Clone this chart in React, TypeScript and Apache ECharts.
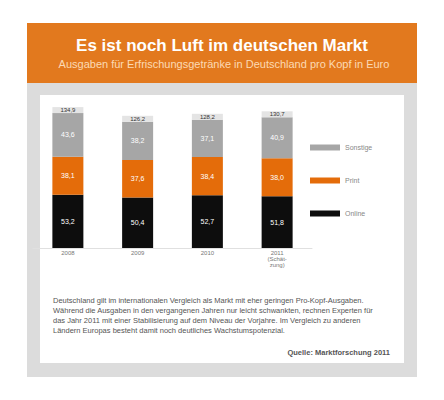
import React, { useEffect, useRef } from "react";
import * as echarts from "echarts";

const categories = ["2008", "2009", "2010", "2011\n(Schät-\nzung)"];
const seriesNames = ["Sonstige", "Print", "Online"];
const onlineValues = [53.2, 50.4, 52.7, 51.8];
const printValues = [38.1, 37.6, 38.4, 38.0];
const otherValues = [43.6, 38.2, 37.1, 40.9];

const titleText = "Es ist noch Luft im deutschen Markt";
const subtitleText = "Ausgaben für Erfrischungsgetränke in Deutschland pro Kopf in Euro";
const bodyText =
  "Deutschland gilt im internationalen Vergleich als Markt mit eher geringen Pro-Kopf-Ausgaben. Während die Ausgaben in den vergangenen Jahren nur leicht schwankten, rechnen Experten für das Jahr 2011 mit einer Stabilisierung auf dem Niveau der Vorjahre. Im Vergleich zu anderen Ländern Europas besteht damit noch deutliches Wachstumspotenzial.";
const sourceText = "Quelle: Marktforschung 2011";

const FONT = "Liberation Sans, Arial, sans-serif";
const fmt = (v: number) => v.toFixed(1).replace(".", ",");

export default function App() {
  const ref = useRef<HTMLDivElement>(null);
  useEffect(() => {
    if (!ref.current) return;
    const chart = echarts.init(ref.current, null, { renderer: "svg" });
    const totals = onlineValues.map((v, i) => v + printValues[i] + otherValues[i]);
    const inner = {
      show: true,
      position: "inside" as const,
      color: "#ffffff",
      fontSize: 7,
      fontFamily: FONT,
      formatter: (p: any) => fmt(p.value),
    };
    chart.setOption({
      animation: false,
      backgroundColor: "#ffffff",
      textStyle: { fontFamily: FONT },
      graphic: [
        { type: "rect", z: -10, shape: { x: 27, y: 23, width: 390, height: 60 }, style: { fill: "#e2791e" } },
        { type: "rect", z: -10, shape: { x: 27, y: 83, width: 390, height: 294 }, style: { fill: "#dcdcdc" } },
        { type: "rect", z: -9, shape: { x: 40, y: 95, width: 364, height: 268 }, style: { fill: "#ffffff" } },
        {
          type: "text", x: 222, y: 45,
          style: { text: titleText, fill: "#ffffff", font: `bold 17px ${FONT}`, textAlign: "center", textVerticalAlign: "middle" },
        },
        {
          type: "text", x: 224, y: 64,
          style: { text: subtitleText, fill: "#fcd9b4", font: `11px ${FONT}`, textAlign: "center", textVerticalAlign: "middle" },
        },
        {
          type: "text", x: 53, y: 295,
          style: { text: bodyText, width: 337, overflow: "break", fill: "#555555", font: `7.5px ${FONT}`, lineHeight: 10 },
        },
        {
          type: "text", x: 390, y: 352,
          style: { text: sourceText, fill: "#555555", font: `bold 7.5px ${FONT}`, textAlign: "right", textVerticalAlign: "middle" },
        },
      ],
      legend: {
        orient: "vertical",
        left: 305,
        top: 139,
        itemWidth: 30,
        itemHeight: 6,
        itemGap: 26,
        icon: "rect",
        data: [seriesNames[0], seriesNames[1], seriesNames[2]],
        textStyle: { fontSize: 7, color: "#888888", fontFamily: FONT },
      },
      grid: { left: 33, right: 132, top: 88, bottom: 152 },
      xAxis: {
        type: "category",
        data: categories,
        axisLine: { show: true, lineStyle: { color: "#e0e0e0" } },
        axisTick: { show: false },
        axisLabel: { fontSize: 6, color: "#777777", lineHeight: 6, margin: 2, fontFamily: FONT },
      },
      yAxis: { type: "value", min: 0, max: 160, show: false },
      series: [
        { name: seriesNames[2], type: "bar", stack: "a", barWidth: 31, data: onlineValues, itemStyle: { color: "#0d0d0d" }, label: inner },
        { name: seriesNames[1], type: "bar", stack: "a", barWidth: 31, data: printValues, itemStyle: { color: "#e46c0a" }, label: inner },
        {
          name: seriesNames[0], type: "bar", stack: "a", barWidth: 31, data: otherValues, itemStyle: { color: "#a6a6a6" },
          label: inner,
        },
        {
          name: "total", type: "bar", stack: "a", barWidth: 31, data: totals.map(() => 0), silent: true,
          itemStyle: { color: "transparent" },
          label: {
            show: true, position: "top", distance: 0, color: "#333333", fontSize: 6, fontFamily: FONT,
            backgroundColor: "#e4e4e4", width: 27, height: 6, padding: [0, 2], align: "center",
            formatter: (p: any) => fmt(totals[p.dataIndex]),
          },
        },
      ],
    });
    return () => chart.dispose();
  }, []);
  return <div ref={ref} style={{ position: "absolute", left: 0, top: 0, width: 444, height: 400 }} />;
}
